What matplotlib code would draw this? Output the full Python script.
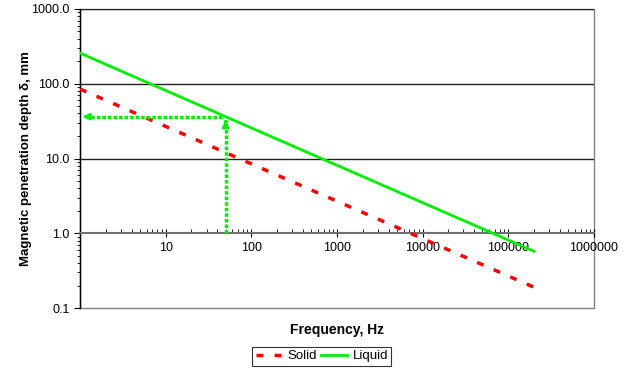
import matplotlib
matplotlib.use('Agg')
import matplotlib.pyplot as plt
from matplotlib.patches import Rectangle
from matplotlib.ticker import LogLocator, FixedLocator, NullFormatter

plt.rcParams['font.family'] = ['Liberation Sans', 'DejaVu Sans']

# data
freq = [1, 200000]
solid = [85, 0.19]
liquid = [257, 0.575]

# example: 50 Hz -> depth in liquid
f_mark = 50
d_mark = 36.3

xticks = [10, 100, 1000, 10000, 100000, 1000000]
xticklabels = ['10', '100', '1000', '10000', '100000', '1000000']
yticks = [0.1, 1, 10, 100, 1000]
yticklabels = ['0.1', '1.0', '10.0', '100.0', '1000.0']

green = '#00ee00'
red = '#ff0000'

fig = plt.figure(figsize=(6.4, 3.73), dpi=100)
ax = fig.add_axes([0.125, 0.174, 0.803, 0.802])

ax.set_xscale('log')
ax.set_yscale('log')
ax.set_xlim(1, 1e6)
ax.set_ylim(0.1, 1000)

# gridlines
for y in [10, 100, 1000]:
    ax.axhline(y, color='#222222', lw=1, zorder=1)

ax.plot(freq, solid, color=red, lw=2.5, dashes=(2, 3.2), label='Solid', zorder=3)
ax.plot(freq, liquid, color=green, lw=2, label='Liquid', zorder=3)

# dotted arrows
ax.plot([f_mark, f_mark], [1, d_mark * 0.9], color=green, lw=2.5, ls=(0, (1, 0.6)), zorder=4)
ax.plot([f_mark * 0.9, 1.12], [d_mark, d_mark], color=green, lw=2.5, ls=(0, (1, 0.6)), zorder=4)
ax.annotate('', xy=(f_mark, d_mark * 0.97), xytext=(f_mark, d_mark * 0.8),
            arrowprops=dict(arrowstyle='-|>', color=green, lw=1.5, mutation_scale=10))
ax.annotate('', xy=(1.0, d_mark), xytext=(1.3, d_mark),
            arrowprops=dict(arrowstyle='-|>', color=green, lw=1.5, mutation_scale=10))

# spines: x axis crossing at 1.0
ax.spines['bottom'].set_position(('data', 1))
ax.spines['bottom'].set_color('#707070')
ax.spines['bottom'].set_linewidth(1.5)
ax.spines['top'].set_visible(False)
ax.spines['right'].set_visible(False)
ax.spines['left'].set_linewidth(1)
ax.add_patch(Rectangle((0, 0), 1, 1, transform=ax.transAxes, fill=False,
                       edgecolor='#808080', lw=1, zorder=0, clip_on=False))

ax.xaxis.set_major_locator(FixedLocator(xticks))
ax.set_xticklabels(xticklabels)
ax.xaxis.set_minor_locator(LogLocator(base=10, subs=range(2, 10), numticks=20))
ax.xaxis.set_minor_formatter(NullFormatter())
ax.yaxis.set_major_locator(FixedLocator(yticks))
ax.set_yticklabels(yticklabels)
ax.yaxis.set_minor_locator(LogLocator(base=10, subs=range(2, 10), numticks=20))
ax.yaxis.set_minor_formatter(NullFormatter())

ax.tick_params(axis='x', which='major', direction='inout', length=6, labelsize=9, pad=3,
               color='black')
ax.tick_params(axis='x', which='minor', direction='in', length=3, color='black')
ax.tick_params(axis='y', which='major', direction='out', length=4, labelsize=9)
ax.tick_params(axis='y', which='minor', direction='out', length=2)

ax.set_ylabel('Magnetic penetration depth δ, mm', fontsize=9.5, fontweight='bold')
ax.yaxis.set_label_coords(-0.094, 0.5)
fig.text(0.527, 0.115, 'Frequency, Hz', ha='center', va='center', fontsize=10, fontweight='bold')

leg = fig.legend(loc='center', bbox_to_anchor=(0.503, 0.045), ncol=2, fontsize=9.5,
                 frameon=True, fancybox=False, edgecolor='black', handlelength=2.0,
                 columnspacing=0.3, handletextpad=0.4, borderpad=0.25, borderaxespad=0)
leg.get_frame().set_linewidth(0.8)

plt.savefig('out.png', dpi=100)
